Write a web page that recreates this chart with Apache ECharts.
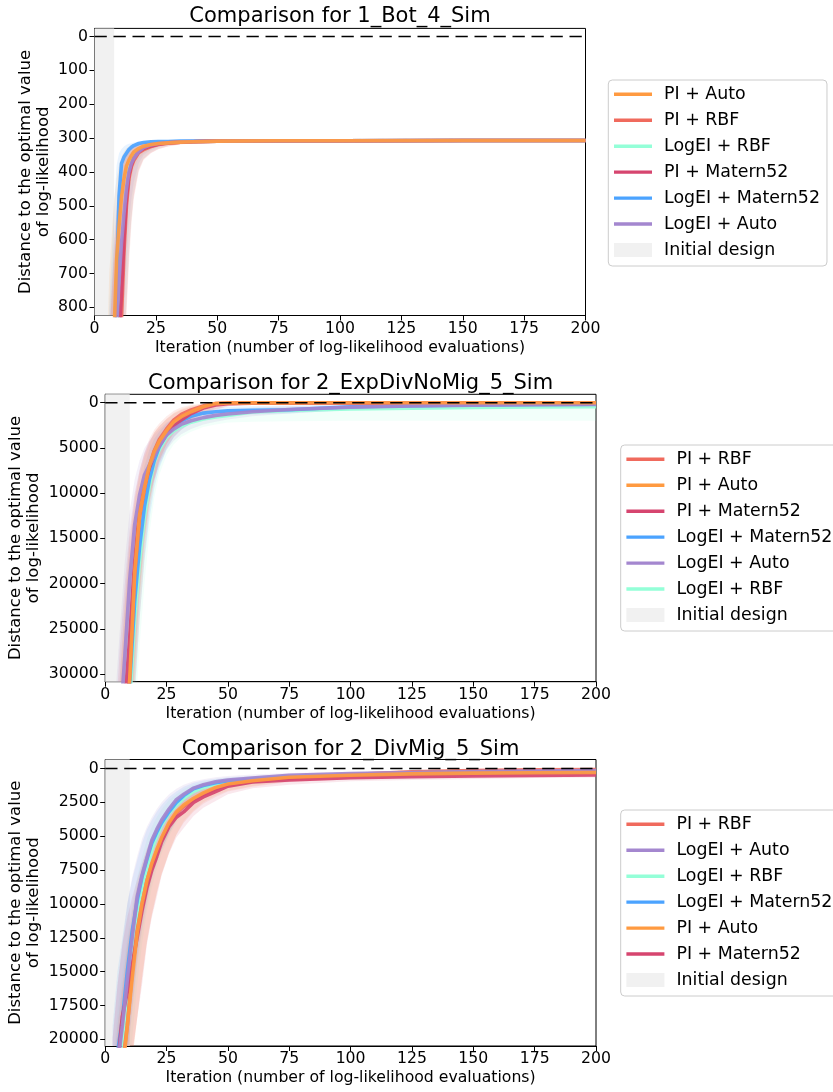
<!DOCTYPE html>
<html><head><meta charset="utf-8">
<script src="https://cdn.jsdelivr.net/npm/echarts@6/dist/echarts.min.js"></script>
<style>html,body{margin:0;padding:0;background:#fff}#c{width:833px;height:1092px}</style>
</head><body><div id="c"></div>
<script>
// ---------------- DATA ----------------
const xTicks = [0, 25, 50, 75, 100, 125, 150, 175, 200];

// Plot 1: 1_Bot_4_Sim
const title1 = 'Comparison for 1_Bot_4_Sim';
const init1 = 8;
const yTicks1 = [0, 100, 200, 300, 400, 500, 600, 700, 800];
const iters1 = [3, 6, 8, 9, 10, 11, 12, 13, 14, 15, 16, 18, 20, 23, 26, 30, 35, 40, 50, 75, 100, 150, 200];
const p1_piAuto   = [2200,1400,870,660,560,475,420,383,365,352,341,331,324,319,316,314,312,311,309,308,308,307,307];
const p1_piAuto_lo= [1500,700,480,420,380,355,340,330,325,320,317,313,311,310,309,308,308,307,306,306,305,305,305];
const p1_piAuto_hi= [3000,2200,1500,1200,1000,850,700,560,470,420,390,360,345,332,325,320,317,315,312,310,310,309,309];
const p1_piRbf    = [2400,1600,1200,1050,930,830,640,500,420,385,366,343,334,325,319,315,312,311,309,308,308,307,307];
const p1_piRbf_lo = [1800,900,650,540,460,400,370,350,338,330,325,318,314,312,310,309,308,307,306,306,305,305,305];
const p1_piRbf_hi = [3200,2400,1900,1600,1400,1200,1000,820,680,560,480,400,365,345,333,325,319,316,313,311,310,309,309];
const p1_leRbf    = [2400,1600,1300,1000,860,700,560,460,400,370,352,336,327,320,316,313,311,310,309,308,308,307,307];
const p1_leRbf_lo = [1800,1000,750,600,480,410,375,355,342,333,327,319,315,312,310,309,308,307,306,306,305,305,305];
const p1_leRbf_hi = [3200,2400,1900,1600,1350,1150,950,780,640,540,460,390,360,340,330,322,317,315,312,310,310,309,309];
const p1_piMat    = [2400,1600,1150,1000,880,760,600,480,410,380,360,340,331,323,318,314,312,311,309,308,308,307,307];
const p1_piMat_lo = [1700,900,620,520,450,395,365,347,336,329,324,317,313,311,310,309,308,307,306,306,305,305,305];
const p1_piMat_hi = [3200,2400,1850,1550,1350,1150,950,800,650,540,470,395,362,343,332,324,318,315,312,310,310,309,309];
const p1_leMat    = [2300,1500,950,720,470,375,356,345,334,327,322,316,313,311,310,310,309,309,308,308,308,307,307];
const p1_leMat_lo = [1500,800,500,380,345,332,325,320,317,315,313,311,310,309,308,308,307,307,306,306,305,305,305];
const p1_leMat_hi = [3000,2200,1500,1200,900,650,500,420,380,360,345,330,322,316,313,312,311,310,310,310,309,309,309];
const p1_leAuto   = [2300,1500,1000,850,720,610,523,450,400,375,360,340,328,320,316,313,311,310,309,308,308,307,307];
const p1_leAuto_lo= [1600,850,600,500,420,380,355,340,332,326,322,316,313,311,310,309,308,307,306,306,305,305,305];
const p1_leAuto_hi= [3100,2300,1700,1400,1200,1000,830,680,560,480,430,375,350,335,326,320,316,314,312,310,310,309,309];
const legend1 = ['PI + Auto', 'PI + RBF', 'LogEI + RBF', 'PI + Matern52', 'LogEI + Matern52', 'LogEI + Auto', 'Initial design'];

// Plot 2: 2_ExpDivNoMig_5_Sim
const title2 = 'Comparison for 2_ExpDivNoMig_5_Sim';
const init2 = 10;
const yTicks2 = [0, 5000, 10000, 15000, 20000, 25000, 30000];
const iters2 = [4, 6, 8, 10, 12, 14, 16, 18, 20, 22, 25, 28, 31, 35, 40, 45, 50, 60, 75, 100, 125, 150, 175, 200];
const p2_piRbf    = [52000,44000,37000,30000,19000,12600,9500,7000,5300,4100,2900,1900,1300,800,350,100,40,20,15,10,10,10,10,10];
const p2_piRbf_lo = [40000,30000,22000,15000,10500,7500,5500,4000,3000,2300,1500,900,500,250,80,20,10,5,5,5,5,5,5,5];
const p2_piRbf_hi = [62000,55000,48000,40000,32000,24000,17000,12000,8800,6500,4600,3300,2500,1800,1200,700,400,150,60,30,20,20,20,20];
const p2_piAuto   = [53000,45000,38000,30500,18800,12400,9400,7000,5400,4300,3100,2100,1550,1000,450,100,30,20,15,10,10,10,10,10];
const p2_piAuto_lo= [41000,31000,23000,16000,11000,8000,6000,4500,3300,2600,1800,1100,700,350,120,30,10,5,5,5,5,5,5,5];
const p2_piAuto_hi= [62000,55000,48000,40000,31000,22000,15500,11000,8200,6300,4600,3400,2600,1800,1100,500,150,60,40,25,20,20,20,20];
const p2_piMat    = [48000,40000,33000,26000,17500,12000,9200,7200,5800,4700,3500,2600,1900,1200,600,250,100,50,30,20,15,15,10,10];
const p2_piMat_lo = [36000,27000,20000,14000,10000,7500,5600,4300,3300,2600,1800,1200,800,450,200,80,30,15,10,10,8,8,5,5];
const p2_piMat_hi = [60000,52000,45000,38000,29000,21000,15000,11000,8500,6700,5000,3800,3000,2200,1400,800,400,180,80,50,40,30,25,25];
const p2_leMat    = [54000,46000,38000,31000,22000,16000,11500,8500,6400,4900,3500,2600,2000,1500,1150,1000,900,830,780,450,330,250,200,170];
const p2_leMat_lo = [42000,33000,25000,18500,13000,9500,7000,5200,4000,3200,2300,1700,1300,950,700,550,450,380,300,200,150,110,90,80];
const p2_leMat_hi = [64000,57000,50000,43000,33000,24000,17500,13000,9500,7300,5200,3800,3000,2300,1800,1600,1450,1300,1200,800,600,450,380,320];
const p2_leAuto   = [44000,36000,28000,19500,13500,10200,8000,6900,5900,4800,3600,2900,2400,2000,1650,1400,1250,1000,750,500,350,280,230,200];
const p2_leAuto_lo= [33000,25000,17500,12000,8500,6400,5000,4200,3500,2900,2200,1800,1500,1200,950,800,700,550,400,280,200,160,130,110];
const p2_leAuto_hi= [55000,47000,40000,31000,22000,16000,12000,10000,8500,7000,5200,4200,3500,2900,2400,2100,1850,1500,1200,800,560,450,370,320];
const p2_leRbf    = [56000,48000,40000,33000,24000,17500,12500,9200,6600,5200,3800,3100,2600,2150,1800,1580,1400,1020,850,700,600,530,480,450];
const p2_leRbf_lo = [45000,36000,28000,21000,15000,11000,8200,6000,4500,3600,2700,2200,1800,1500,1250,1050,900,650,500,380,300,250,220,200];
const p2_leRbf_hi = [66000,59000,52000,45000,36000,27000,20000,14500,10500,8000,5800,4600,3800,3200,2700,2400,2200,2100,2050,2000,2000,2000,2000,2000];
const legend2 = ['PI + RBF', 'PI + Auto', 'PI + Matern52', 'LogEI + Matern52', 'LogEI + Auto', 'LogEI + RBF', 'Initial design'];

// Plot 3: 2_DivMig_5_Sim
const title3 = 'Comparison for 2_DivMig_5_Sim';
const init3 = 10;
const yTicks3 = [0, 2500, 5000, 7500, 10000, 12500, 15000, 17500, 20000];
const iters3 = [3, 5, 7, 9, 11, 13, 15, 17, 19, 21, 23, 26, 29, 32, 36, 40, 45, 50, 60, 75, 100, 125, 150, 175, 200];
const p3_piRbf    = [29000,25000,22000,19000,15000,12000,10000,8300,7100,6100,5200,4100,3300,2800,2300,1900,1500,1200,950,700,450,250,150,100,80];
const p3_piRbf_lo = [23000,19000,16000,13000,10500,8600,7200,6000,5000,4300,3700,2900,2300,1900,1500,1250,1000,820,650,480,300,150,80,50,40];
const p3_piRbf_hi = [35000,31000,28000,25000,21500,18500,15500,12800,10800,9200,7800,6200,4900,4000,3200,2600,2100,1700,1350,1000,800,650,550,500,480];
const p3_leAuto   = [26000,22000,19000,15600,12500,9500,7900,6600,5300,4500,3800,3000,2300,1900,1450,1200,980,850,700,500,380,300,230,180,150];
const p3_leAuto_lo= [20000,16000,13000,10000,8000,6500,5200,4300,3600,3000,2500,1900,1500,1200,950,800,650,550,450,330,250,200,150,120,100];
const p3_leAuto_hi= [32000,28000,25000,21500,18000,14500,12000,10000,8200,7000,6000,4800,3800,3000,2300,1900,1500,1250,1000,750,550,450,380,340,300];
const p3_leRbf    = [28000,24000,21000,18000,14000,11000,9000,7300,6000,5000,4200,3300,2700,2200,1700,1400,1150,1000,820,620,480,400,300,240,200];
const p3_leRbf_lo = [22000,18000,15000,12500,10000,8000,6500,5200,4300,3600,3000,2300,1900,1500,1200,1000,820,700,580,430,320,260,200,160,140];
const p3_leRbf_hi = [34000,30000,27000,24000,20000,16000,13000,10500,8800,7400,6300,5000,4000,3300,2600,2100,1700,1450,1150,880,700,600,520,470,430];
const p3_leMat    = [25000,21000,18500,15000,12000,9800,8000,6700,5500,4700,4000,3200,2500,2000,1500,1250,1050,920,780,620,500,420,340,290,260];
const p3_leMat_lo = [19000,15000,12500,10000,8200,6800,5500,4500,3800,3200,2700,2100,1700,1350,1050,880,750,650,550,430,340,280,230,200,180];
const p3_leMat_hi = [32000,28000,25000,21000,17500,14000,11500,9600,8000,6900,6000,4800,3800,3000,2300,1900,1550,1300,1100,900,750,650,560,500,450];
const p3_piAuto   = [30000,26000,22500,19000,15500,12200,10000,8300,7000,6000,5100,4000,3200,2700,2200,1800,1400,1150,900,650,500,400,340,310,300];
const p3_piAuto_lo= [24000,20000,16500,13500,11000,9000,7400,6200,5200,4400,3700,2900,2300,1850,1500,1200,950,800,620,450,340,270,220,190,170];
const p3_piAuto_hi= [36000,32000,28500,25000,21500,18500,15500,12800,10800,9200,7800,6200,4900,3900,3100,2500,2000,1650,1300,950,720,580,480,440,420];
const p3_piMat    = [26000,22000,18300,16500,14500,12500,10500,8800,7500,6500,5400,4300,3600,3200,2500,2100,1700,1300,1000,850,680,600,550,510,480];
const p3_piMat_lo = [20000,16000,13000,11000,9500,8200,7000,5900,5100,4400,3700,2900,2500,2200,1700,1400,1150,900,700,580,470,420,390,360,340];
const p3_piMat_hi = [33000,29000,26000,23500,21000,18500,16000,13000,11000,9500,7900,6300,5100,4400,3500,2900,2400,1900,1450,1200,950,840,770,710,670];
const legend3 = ['PI + RBF', 'LogEI + Auto', 'LogEI + RBF', 'LogEI + Matern52', 'PI + Auto', 'PI + Matern52', 'Initial design'];

// ---------------- STYLE ----------------
const FONT = 'DejaVu Sans';
const COLORS = {
  'PI + Auto': '#ff9a40',
  'PI + RBF': '#f06a5d',
  'LogEI + RBF': '#94ffd8',
  'PI + Matern52': '#d6456f',
  'LogEI + Matern52': '#4ba3ff',
  'LogEI + Auto': '#a487cf',
  'Initial design': '#f1f1f1'
};
const DRAW_ORDER = ['LogEI + RBF', 'LogEI + Matern52', 'PI + RBF', 'PI + Matern52', 'LogEI + Auto', 'PI + Auto'];

const plots = [
  { title: title1, init: init1, yTicks: yTicks1, iters: iters1, legend: legend1,
    yMin: -24, yMax: 824,
    grid: {left: 94.5, top: 28.4, width: 491, height: 287.1}, titleTop: 6, nameGap: 42,
    legendPos: {left: 608.3, top: 80},
    s: {'PI + Auto':[p1_piAuto,p1_piAuto_lo,p1_piAuto_hi], 'PI + RBF':[p1_piRbf,p1_piRbf_lo,p1_piRbf_hi],
        'LogEI + RBF':[p1_leRbf,p1_leRbf_lo,p1_leRbf_hi], 'PI + Matern52':[p1_piMat,p1_piMat_lo,p1_piMat_hi],
        'LogEI + Matern52':[p1_leMat,p1_leMat_lo,p1_leMat_hi], 'LogEI + Auto':[p1_leAuto,p1_leAuto_lo,p1_leAuto_hi]} },
  { title: title2, init: init2, yTicks: yTicks2, iters: iters2, legend: legend2,
    yMin: -929, yMax: 30852,
    grid: {left: 105.2, top: 394.3, width: 490.8, height: 287.4}, titleTop: 373.5, nameGap: 62,
    legendPos: {left: 620.7, top: 445},
    s: {'PI + Auto':[p2_piAuto,p2_piAuto_lo,p2_piAuto_hi], 'PI + RBF':[p2_piRbf,p2_piRbf_lo,p2_piRbf_hi],
        'LogEI + RBF':[p2_leRbf,p2_leRbf_lo,p2_leRbf_hi], 'PI + Matern52':[p2_piMat,p2_piMat_lo,p2_piMat_hi],
        'LogEI + Matern52':[p2_leMat,p2_leMat_lo,p2_leMat_hi], 'LogEI + Auto':[p2_leAuto,p2_leAuto_lo,p2_leAuto_hi]} },
  { title: title3, init: init3, yTicks: yTicks3, iters: iters3, legend: legend3,
    yMin: -665, yMax: 20495,
    grid: {left: 105.2, top: 759.5, width: 490.8, height: 286.5}, titleTop: 739, nameGap: 62,
    legendPos: {left: 620.7, top: 810},
    s: {'PI + Auto':[p3_piAuto,p3_piAuto_lo,p3_piAuto_hi], 'PI + RBF':[p3_piRbf,p3_piRbf_lo,p3_piRbf_hi],
        'LogEI + RBF':[p3_leRbf,p3_leRbf_lo,p3_leRbf_hi], 'PI + Matern52':[p3_piMat,p3_piMat_lo,p3_piMat_hi],
        'LogEI + Matern52':[p3_leMat,p3_leMat_lo,p3_leMat_hi], 'LogEI + Auto':[p3_leAuto,p3_leAuto_lo,p3_leAuto_hi]} }
];

const LINE_ICON = 'path://M0,0H38V0.02H0Z M0,5.3H38V8.7H0Z M0,13.98H38V14H0Z';

const option = {
  animation: false,
  backgroundColor: '#ffffff',
  textStyle: {fontFamily: FONT},
  title: [], grid: [], xAxis: [], yAxis: [], legend: [], series: []
};

plots.forEach((p, gi) => {
  option.title.push({
    text: p.title, left: p.grid.left + p.grid.width / 2, top: p.titleTop, textAlign: 'center',
    padding: 0,
    textStyle: {fontFamily: FONT, fontSize: 21, fontWeight: 'normal', color: '#000'}
  });
  option.grid.push(Object.assign({show: true, borderColor: '#000', borderWidth: 1, backgroundColor: 'transparent',
    containLabel: false, outerBoundsMode: 'none'}, p.grid));
  option.xAxis.push({
    type: 'value', gridIndex: gi, min: 0, max: 200, interval: 25,
    name: 'Iteration (number of log-likelihood evaluations)', nameLocation: 'middle', nameGap: 24,
    nameMoveOverlap: false,
    nameTextStyle: {fontFamily: FONT, fontSize: 15.7, color: '#000'},
    axisLine: {show: true, onZero: false, lineStyle: {color: '#000', width: 1}},
    axisTick: {show: true, length: 5, lineStyle: {color: '#000', width: 1}},
    axisLabel: {fontFamily: FONT, fontSize: 15.7, color: '#000', margin: 5, showMaxLabel: true, showMinLabel: true,
                formatter: v => String(v)},
    splitLine: {show: false}
  });
  option.yAxis.push({
    type: 'value', gridIndex: gi, inverse: true, min: p.yMin, max: p.yMax,
    name: 'Distance to the optimal value\nof log-likelihood', nameLocation: 'middle', nameGap: p.nameGap,
    nameMoveOverlap: false,
    nameTextStyle: {fontFamily: FONT, fontSize: 16.5, lineHeight: 18, color: '#000'},
    axisLine: {show: true, onZero: false, lineStyle: {color: '#000', width: 1}},
    axisTick: {show: true, length: 5, customValues: p.yTicks, lineStyle: {color: '#000', width: 1}},
    axisLabel: {fontFamily: FONT, fontSize: 15.7, color: '#000', margin: 6.5, customValues: p.yTicks,
                formatter: v => String(v)},
    splitLine: {show: false}
  });
  option.legend.push({
    orient: 'vertical', left: p.legendPos.left, top: p.legendPos.top,
    itemWidth: 38, itemHeight: 14, itemGap: 5.95,
    padding: [4.3, 7, 6, 5.7],
    backgroundColor: '#ffffff', borderColor: '#cccccc', borderWidth: 1, borderRadius: 4,
    selectedMode: false,
    textStyle: {fontFamily: FONT, fontSize: 17.4, color: '#000', lineHeight: 20, padding: [0, 0, 0, 7]},
    data: p.legend.map(n => n === 'Initial design' ? {name: n, icon: 'rect'} : {name: n, icon: LINE_ICON})
  });

  // initial design band
  option.series.push({
    type: 'custom', name: 'Initial design', xAxisIndex: gi, yAxisIndex: gi, silent: true, z: 1,
    itemStyle: {color: COLORS['Initial design']},
    data: [[0, p.init]],
    renderItem: function (params, api) {
      const cs = params.coordSys;
      const a = api.coord([api.value(0), 0]);
      const b = api.coord([api.value(1), 0]);
      return {type: 'rect', shape: {x: a[0], y: cs.y, width: b[0] - a[0], height: cs.height},
              style: {fill: COLORS['Initial design']}};
    }
  });

  // bands
  DRAW_ORDER.forEach(name => {
    const [mean, lo, hi] = p.s[name];
    const xs = p.iters;
    option.series.push({
      type: 'custom', name: name + ' (band)', xAxisIndex: gi, yAxisIndex: gi, silent: true, clip: true, z: 2,
      data: [[xs[0], lo[0]]],
      renderItem: function (params, api) {
        const cs = params.coordSys;
        const pts = [];
        for (let i = 0; i < xs.length; i++) pts.push(api.coord([xs[i], lo[i]]));
        for (let i = xs.length - 1; i >= 0; i--) pts.push(api.coord([xs[i], hi[i]]));
        return {type: 'group',
          clipPath: {type: 'rect', shape: {x: cs.x, y: cs.y, width: cs.width, height: cs.height}},
          children: [{type: 'polygon', shape: {points: pts}, style: {fill: COLORS[name], opacity: 0.12}}]};
      }
    });
  });

  // mean lines
  DRAW_ORDER.forEach(name => {
    const mean = p.s[name][0];
    option.series.push({
      type: 'line', name: name, xAxisIndex: gi, yAxisIndex: gi, silent: true, clip: true, z: 3,
      symbol: 'none', showSymbol: false,
      lineStyle: {width: 3.6, color: COLORS[name], opacity: 0.92},
      itemStyle: {color: COLORS[name]},
      data: p.iters.map((x, i) => [x, mean[i]])
    });
  });

  // dashed optimum line at 0
  option.series.push({
    type: 'line', name: 'optimum', xAxisIndex: gi, yAxisIndex: gi, silent: true, z: 4,
    symbol: 'none', lineStyle: {color: '#000', width: 1.5, type: [12.3, 6.7]},
    data: [[0, 0], [200, 0]]
  });
});

const chart = echarts.init(document.getElementById('c'), null, {renderer: 'canvas'});
chart.setOption(option);
</script>
</body></html>
